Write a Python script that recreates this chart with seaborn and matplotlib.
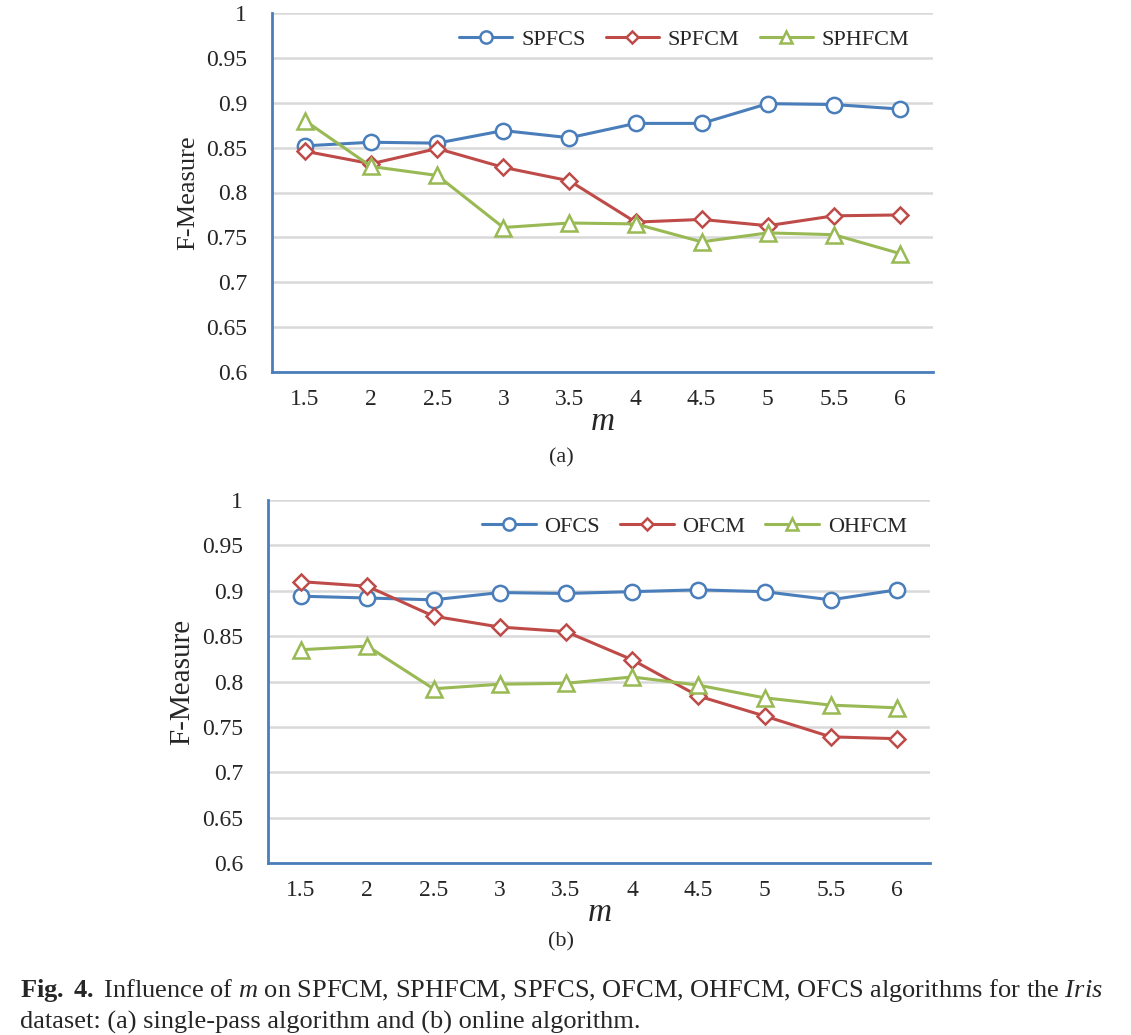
import numpy as np
import pandas as pd
import matplotlib
matplotlib.use("Agg")
import matplotlib.pyplot as plt
import seaborn as sns

# m values (categorical x axis)
m_labels = ["1.5", "2", "2.5", "3", "3.5", "4", "4.5", "5", "5.5", "6"]

# (a) single-pass algorithms
spfcs = [0.852, 0.856, 0.855, 0.869, 0.861, 0.877, 0.877, 0.899, 0.898, 0.893]
spfcm = [0.846, 0.832, 0.849, 0.828, 0.813, 0.767, 0.770, 0.763, 0.774, 0.775]
sphfcm = [0.880, 0.829, 0.819, 0.761, 0.766, 0.765, 0.745, 0.755, 0.753, 0.732]

# (b) online algorithms
ofcs = [0.894, 0.892, 0.890, 0.898, 0.897, 0.899, 0.901, 0.899, 0.890, 0.901]
ofcm = [0.910, 0.905, 0.872, 0.860, 0.855, 0.824, 0.784, 0.762, 0.739, 0.737]
ohfcm = [0.835, 0.839, 0.792, 0.797, 0.798, 0.805, 0.796, 0.782, 0.774, 0.771]

y_ticks = [0.6, 0.65, 0.7, 0.75, 0.8, 0.85, 0.9, 0.95, 1.0]
y_tick_labels = ["0.6", "0.65", "0.7", "0.75", "0.8", "0.85", "0.9", "0.95", "1"]

colors = ["#4A7EBB", "#BE4B48", "#98B954"]
markers = ["o", "D", "^"]
marker_sizes = [11, 8, 11]
axis_color = "#4A7EBB"

sns.set_theme(style="white")
plt.rcParams["font.family"] = ["Liberation Serif", "DejaVu Serif"]
plt.rcParams["mathtext.fontset"] = "custom"
plt.rcParams["mathtext.rm"] = "Liberation Serif"
plt.rcParams["mathtext.it"] = "Liberation Serif:italic"
plt.rcParams["mathtext.bf"] = "Liberation Serif:bold"

fig = plt.figure(figsize=(11.31, 10.35), dpi=100)
W, H = 1131, 1035
ax_a = fig.add_axes([272 / W, 1 - 372 / H, (933 - 272) / W, (372 - 13) / H])
ax_b = fig.add_axes([268 / W, 1 - 863 / H, (930 - 268) / W, (863 - 500) / H])


def draw_panel(ax, series, names, ylabel_size):
    x = np.arange(len(m_labels))
    for vals, name, c, mk, ms in zip(series, names, colors, markers, marker_sizes):
        df = pd.DataFrame({"x": x, "y": vals})
        sns.lineplot(data=df, x="x", y="y", ax=ax, color=c, linewidth=2.2,
                     marker=mk, markersize=ms, markerfacecolor="white",
                     markeredgecolor=c, markeredgewidth=1.8, label=name)
    ax.set_xlim(-0.5, len(m_labels) - 0.5)
    ax.set_ylim(0.6, 1.0)
    ax.set_xticks(x)
    ax.set_xticklabels(m_labels, fontsize=17)
    ax.set_xticks(np.arange(len(m_labels) + 1) - 0.5, minor=True)
    ax.set_yticks(y_ticks)
    ax.set_yticklabels(y_tick_labels, fontsize=17)
    ax.tick_params(axis="x", which="major", length=0, pad=12)
    ax.tick_params(axis="x", which="minor", length=5, width=1.2,
                   direction="in", color=axis_color)
    ax.tick_params(axis="y", length=5, width=1.2, direction="in",
                   color=axis_color, pad=18)
    ax.yaxis.grid(True, color="#D9D9D9", linewidth=1.8)
    ax.set_axisbelow(True)
    for side in ["top", "right"]:
        ax.spines[side].set_visible(False)
    for side in ["left", "bottom"]:
        ax.spines[side].set_color(axis_color)
        ax.spines[side].set_linewidth(2)
    ax.set_xlabel("$m$", fontsize=24, labelpad=-2)
    ax.set_ylabel("F-Measure", fontsize=ylabel_size, labelpad=5)
    ax.legend(loc="upper right", bbox_to_anchor=(0.995, 1.01), ncol=3, frameon=False,
              fontsize=16, handlelength=2.4, columnspacing=0.9, handletextpad=0.4,
              markerscale=0.8)


draw_panel(ax_a, [spfcs, spfcm, sphfcm], ["SPFCS", "SPFCM", "SPHFCM"], 19)
draw_panel(ax_b, [ofcs, ofcm, ohfcm], ["OFCS", "OFCM", "OHFCM"], 21)

fig.text(561 / W, 1 - 458 / H, "(a)", ha="center", va="center", fontsize=16)
fig.text(561 / W, 1 - 942 / H, "(b)", ha="center", va="center", fontsize=16)

fig.text(20 / W, 1 - 990 / H,
         r"$\mathbf{Fig.\ 4.}$ Influence of $m$ on SPFCM, SPHFCM, SPFCS, OFCM, OHFCM, OFCS algorithms for the $Iris$",
         ha="left", va="center", fontsize=19)
fig.text(20 / W, 1 - 1022 / H,
         "dataset: (a) single-pass algorithm and (b) online algorithm.",
         ha="left", va="center", fontsize=19)

fig.savefig("out.png", dpi=100)
